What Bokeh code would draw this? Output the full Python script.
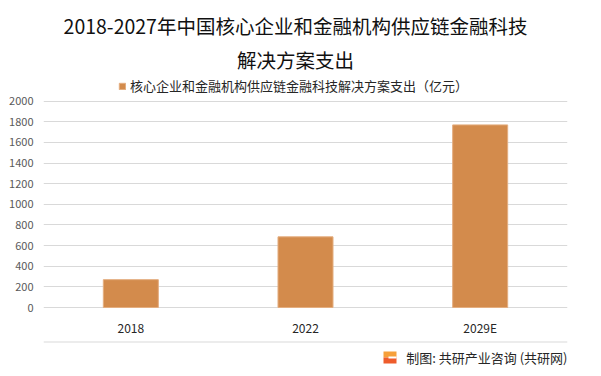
from bokeh.plotting import figure
from bokeh.layouts import column
from bokeh.models import (Range1d, FactorRange, FixedTicker, Label, Legend,
                          LegendItem, BoxAnnotation, ColumnDataSource)
from bokeh.embed import file_html
from bokeh.resources import INLINE

# ---- data ----
years = ["2018", "2022", "2029E"]
spend = [270, 685, 1770]
y_ticks = [0, 200, 400, 600, 800, 1000, 1200, 1400, 1600, 1800, 2000]

title_line1 = "2018-2027年中国核心企业和金融机构供应链金融科技"
title_line2 = "解决方案支出"
series_name = "核心企业和金融机构供应链金融科技解决方案支出（亿元）"
source_text = "制图: 共研产业咨询 (共研网)"

CJK = "Noto Sans CJK SC"
BAR = "#d38b4c"

W = 601
H_MAIN, H_FOOT = 338, 38
FL, FR, FT, FB = 43, 34, 0, 29
FRAME_H = H_MAIN - FT - FB          # 309
PX = 2000 / 207.0                   # data units per pixel
Y0 = -1 * PX
Y1 = Y0 + FRAME_H * PX

src = ColumnDataSource(dict(year=years, spend=spend))

p = figure(width=W, height=H_MAIN, x_range=FactorRange(*years), y_range=Range1d(Y0, Y1),
           output_backend="svg", toolbar_location=None, title=None,
           min_border_left=FL, min_border_right=FR, min_border_top=FT, min_border_bottom=FB)
p.outline_line_color = None
p.background_fill_color = "white"
p.border_fill_color = "white"

r = p.vbar(x="year", top="spend", bottom=0, width=0.315, source=src,
           fill_color=BAR, line_color="#e4ae80", line_width=1)

p.xgrid.grid_line_color = None
p.ygrid.ticker = FixedTicker(ticks=y_ticks)
p.ygrid.grid_line_color = "#d9d9d9"
p.ygrid.grid_line_width = 1

p.yaxis.ticker = FixedTicker(ticks=y_ticks)
p.yaxis.axis_line_color = None
p.yaxis.major_tick_line_color = None
p.yaxis.minor_tick_line_color = None
p.yaxis.major_tick_out = 0
p.yaxis.major_tick_in = 0
p.yaxis.major_label_standoff = 10
p.yaxis.major_label_text_font = CJK
p.yaxis.major_label_text_font_size = "11px"
p.yaxis.major_label_text_color = "#595959"

p.xaxis.axis_line_color = None
p.xaxis.major_tick_line_color = None
p.xaxis.major_tick_out = 0
p.xaxis.major_tick_in = 0
p.xaxis.major_label_standoff = 10
p.xaxis.major_label_text_font = CJK
p.xaxis.major_label_text_font_size = "12px"
p.xaxis.major_label_text_color = "#262626"

# titles (screen units relative to the frame's bottom-left)
for txt, yy in [(title_line1, FRAME_H - 26), (title_line2, FRAME_H - 60)]:
    p.add_layout(Label(x=252, y=yy, x_units="screen", y_units="screen", text=txt,
                       text_align="center", text_baseline="middle",
                       text_font=CJK, text_font_size="19.5px", text_color="#111111"))

legend = Legend(items=[LegendItem(label=series_name, renderers=[r])],
                location=(75, FRAME_H - 96), orientation="horizontal",
                glyph_width=8, glyph_height=8, label_standoff=4,
                label_text_font=CJK, label_text_font_size="13px",
                label_text_color="#262626", label_height=16,
                padding=0, margin=0, spacing=0,
                border_line_color=None, background_fill_alpha=0)
p.add_layout(legend)

# ---- footer (its frame is aligned with the main frame: x 43..567) ----
f = figure(width=W, height=H_FOOT, x_range=Range1d(0, 524), y_range=Range1d(0, H_FOOT),
           output_backend="svg", toolbar_location=None, title=None,
           x_axis_type=None, y_axis_type=None,
           min_border_left=FL, min_border_right=FR, min_border_top=0, min_border_bottom=0)
f.outline_line_color = None
f.background_fill_color = "white"
f.border_fill_color = "white"
f.xgrid.visible = False
f.ygrid.visible = False

def sbox(l, rgt, t, b, color):
    return BoxAnnotation(left=l, right=rgt, top=t, bottom=b,
                         left_units="screen", right_units="screen",
                         top_units="screen", bottom_units="screen",
                         fill_color=color, fill_alpha=1, line_color=None)

f.add_layout(sbox(0, 524, 35, 34, "#d9d9d9"))         # separator line
f.add_layout(sbox(340, 353, 25, 19, "#f6a03a"))       # logo upper
f.add_layout(sbox(340, 353, 19, 13, "#ee5c2c"))       # logo lower
f.add_layout(sbox(345, 353, 20, 18, "white"))         # logo slit

f.add_layout(Label(x=524, y=19, x_units="screen", y_units="screen", text=source_text,
                   text_align="right", text_baseline="middle",
                   text_font=CJK, text_font_size="13px", text_color="#262626"))

root = column(p, f, spacing=0)
open("out.html", "w").write(file_html(root, INLINE))
